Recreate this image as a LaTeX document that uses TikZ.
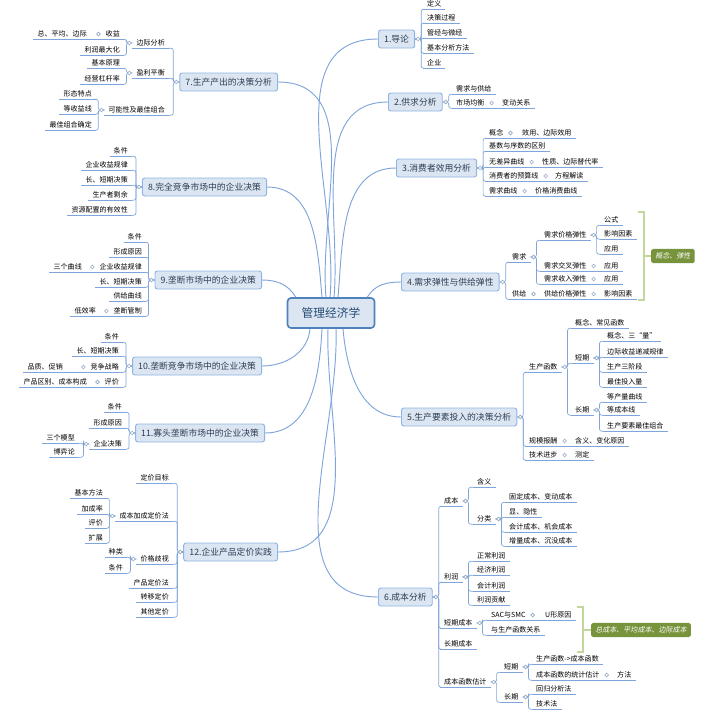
\documentclass[tikz,border=0pt]{standalone}
\usepackage{fontspec}
\setmainfont{Noto Sans CJK SC}
\newfontfamily\slantcjk[FakeSlant=0.2]{Noto Sans CJK SC}
\usepackage{xcolor}
\usepackage{tikz}
\usetikzlibrary{positioning, calc}

\definecolor{topicfill}{HTML}{DCE6F2}
\definecolor{topicline}{HTML}{8EB4E3}
\definecolor{rootline}{HTML}{4F81BD}
\definecolor{branch}{HTML}{7FA5DA}
\definecolor{knobline}{HTML}{95A9C4}
\definecolor{sumfill}{HTML}{77933C}
\definecolor{braceline}{HTML}{C3D69B}
\definecolor{topictext}{HTML}{2E3D52}
\definecolor{roottext}{HTML}{254A77}

\tikzset{
  root/.style={rectangle, draw=rootline, line width=1.4pt, rounded corners=3pt, fill=topicfill, text=roottext, font=\fontsize{10}{12}\selectfont, minimum width=2.61cm, minimum height=0.9cm},
  topic/.style={rectangle, draw=topicline, line width=0.8pt, rounded corners=2pt, fill=topicfill, text=topictext, font=\fontsize{7.5}{9}\selectfont, minimum height=0.54cm, inner xsep=0.17cm},
  uline/.style={draw=branch, line width=0.6pt},
  leaf/.style={font=\fontsize{6}{7}\selectfont, text height=5.2pt, text depth=0.8pt, inner xsep=3.4pt, inner ysep=1.3pt, append after command={(\tikzlastnode.south west) edge[uline] (\tikzlastnode.south east)}},
  rleaf/.style={leaf, anchor=west},
  lleaf/.style={leaf, anchor=east},
  link/.style={draw=branch, line width=0.6pt, rounded corners=2pt},
  trunk/.style={draw=branch, line width=0.8pt},
  knob/.style={draw=knobline, fill=white, line width=0.5pt},
  brace/.style={draw=braceline, line width=1.3pt},
  sumbox/.style={rectangle, fill=sumfill, text=white, rounded corners=1.5pt, font=\slantcjk\fontsize{6}{7}\selectfont, minimum height=0.42cm, inner xsep=3.5pt}
}

% children joined to a parent, right and left
\newcommand\kidsR[2]{\foreach \kid in {#2}{\draw[link] (#1.east) -- ++(6,0) |- (\kid.south west);}\draw[knob] ($(#1.east)+(3,0)$) circle[radius=1.6pt];}
\newcommand\kidsL[2]{\foreach \kid in {#2}{\draw[link] (#1.west) -- ++(-6,0) |- (\kid.south east);}\draw[knob] ($(#1.west)+(-3,0)$) circle[radius=1.6pt];}
\newcommand\kidR[2]{\draw[link] (#1.south east) -- (#2.south west); \draw[knob] ($(#1.east)+(3,0)$) circle[radius=1.6pt];}
\newcommand\kidL[2]{\draw[link] (#1.south west) -- (#2.south east); \draw[knob] ($(#1.west)+(-3,0)$) circle[radius=1.6pt];}

\begin{document}
\begin{tikzpicture}[x=0.03cm, y=-0.03cm]
\useasboundingbox (0,0) rectangle (722,727);

\node[root] (root) at (331,313) {管理经济学};

% right topics
\node[topic, anchor=west] (t1) at (378,39) {1.导论};
\node[topic, anchor=west] (t2) at (388,102) {2.供求分析};
\node[topic, anchor=west] (t3) at (396,168) {3.消费者效用分析};
\node[topic, anchor=west] (t4) at (401,282) {4.需求弹性与供给弹性};
\node[topic, anchor=west] (t5) at (401,417) {5.生产要素投入的决策分析};
\node[topic, anchor=west] (t6) at (378,597) {6.成本分析};
% left topics
\node[topic, anchor=east] (t7) at (278,82) {7.生产产出的决策分析};
\node[topic, anchor=east] (t8) at (267,187) {8.完全竞争市场中的企业决策};
\node[topic, anchor=east] (t9) at (262,280) {9.垄断市场中的企业决策};
\node[topic, anchor=east] (t10) at (262,366) {10.垄断竞争市场中的企业决策};
\node[topic, anchor=east] (t11) at (265,433) {11.寡头垄断市场中的企业决策};
\node[topic, anchor=east] (t12) at (278,552) {12.企业产品定价实践};

\draw[trunk] ($(root.north)+(-1,0)$) to[out=85,in=180] (t1.west);
\draw[trunk] ($(root.north)+(3,0)$) to[out=85,in=180] (t2.west);
\draw[trunk] ($(root.north)+(7,0)$) to[out=85,in=180] (t3.west);
\draw[trunk] ($(root.north east)+(-8,0)$) to[out=60,in=180] (t4.west);
\draw[trunk] ($(root.south)+(12,0)$) to[out=-85,in=180] (t5.west);
\draw[trunk] ($(root.south)+(5,0)$) to[out=-88,in=180] (t6.west);
\draw[trunk] ($(root.north)+(-5,0)$) to[out=95,in=0] (t7.east);
\draw[trunk] ($(root.north)+(-9,0)$) to[out=95,in=0] (t8.east);
\draw[trunk] ($(root.north west)+(9,0)$) to[out=120,in=0] (t9.east);
\draw[trunk] ($(root.south)+(-21,0)$) to[out=-95,in=0] (t10.east);
\draw[trunk] ($(root.south)+(-9,0)$) to[out=-93,in=0] (t11.east);
\draw[trunk] ($(root.south)+(-3,0)$) to[out=-92,in=0] (t12.east);

% 1
\node[rleaf] (n11) at (423,4) {定义};
\node[rleaf] (n12) at (423,18) {决策过程};
\node[rleaf] (n13) at (423,33) {管经与微经};
\node[rleaf] (n14) at (423,48) {基本分析方法};
\node[rleaf] (n15) at (423,63) {企业};
\kidsR{t1}{n11,n12,n13,n14,n15}

% 2
\node[rleaf] (n21) at (452,89) {需求与供给};
\node[rleaf] (n22) at (452,103) {市场均衡};
\node[rleaf] (n221) at (498,103) {变动关系};
\kidsR{t2}{n21,n22}
\kidR{n22}{n221}

% 3
\node[rleaf] (n31) at (485,133) {概念};
\node[rleaf] (n311) at (518,133) {效用、边际效用};
\node[rleaf] (n32) at (485,146) {基数与序数的区别};
\node[rleaf] (n33) at (485,162) {无差异曲线};
\node[rleaf] (n331) at (538,162) {性质、边际替代率};
\node[rleaf] (n34) at (485,176) {消费者的预算线};
\node[rleaf] (n341) at (551,176) {方程解读};
\node[rleaf] (n35) at (485,191) {需求曲线};
\node[rleaf] (n351) at (531,191) {价格消费曲线};
\kidsR{t3}{n31,n32,n33,n34,n35}
\kidR{n31}{n311} \kidR{n33}{n331} \kidR{n34}{n341} \kidR{n35}{n351}

% 4
\node[rleaf] (n41) at (508,257) {需求};
\node[rleaf] (n42) at (508,294) {供给};
\node[rleaf] (n411) at (540,235) {需求价格弹性};
\node[rleaf] (n412) at (540,266) {需求交叉弹性};
\node[rleaf] (n413) at (540,279) {需求收入弹性};
\node[rleaf] (n421) at (540,294) {供给价格弹性};
\node[rleaf] (n4111) at (600,220) {公式};
\node[rleaf] (n4112) at (600,234) {影响因素};
\node[rleaf] (n4113) at (600,249) {应用};
\node[rleaf] (n4121) at (600,266) {应用};
\node[rleaf] (n4131) at (600,279) {应用};
\node[rleaf] (n4211) at (600,294) {影响因素};
\kidsR{t4}{n41,n42}
\kidsR{n41}{n411,n412,n413}
\kidsR{n411}{n4111,n4112,n4113}
\kidR{n412}{n4121} \kidR{n413}{n4131} \kidR{n42}{n421} \kidR{n421}{n4211}
\node[sumbox, anchor=west] (sum4) at (651,256) {概念、弹性};
\draw[brace] (638,212) -| (644,300) -- (638,300);
\draw[brace] (644,256) -- (sum4.west);

% 5
\node[rleaf] (n51) at (525,367) {生产函数};
\node[rleaf] (n52) at (525,441) {规模报酬};
\node[rleaf] (n53) at (525,455) {技术进步};
\node[rleaf] (n511) at (571,323) {概念、常见函数};
\node[rleaf] (n512) at (571,358) {短期};
\node[rleaf] (n513) at (571,410) {长期};
\node[rleaf] (n5121) at (603,336) {概念、三“量”};
\node[rleaf] (n5122) at (603,352) {边际收益递减规律};
\node[rleaf] (n5123) at (603,367) {生产三阶段};
\node[rleaf] (n5124) at (603,382) {最佳投入量};
\node[rleaf] (n5131) at (603,397) {等产量曲线};
\node[rleaf] (n5132) at (603,410) {等成本线};
\node[rleaf] (n5133) at (603,426) {生产要素最佳组合};
\node[rleaf] (n521) at (571,441) {含义、变化原因};
\node[rleaf] (n531) at (571,455) {测定};
\kidsR{t5}{n51,n52,n53}
\kidsR{n51}{n511,n512,n513}
\kidsR{n512}{n5121,n5122,n5123,n5124}
\kidsR{n513}{n5131,n5132,n5133}
\kidR{n52}{n521} \kidR{n53}{n531}

% 6
\node[rleaf] (n61) at (440,501) {成本};
\node[rleaf] (n62) at (440,577) {利润};
\node[rleaf] (n63) at (440,623) {短期成本};
\node[rleaf] (n64) at (440,644) {长期成本};
\node[rleaf] (n65) at (440,682) {成本函数估计};
\node[rleaf] (n611) at (473,482) {含义};
\node[rleaf] (n612) at (473,519) {分类};
\node[rleaf] (n6121) at (505,497) {固定成本、变动成本};
\node[rleaf] (n6122) at (505,512) {显、隐性};
\node[rleaf] (n6123) at (505,527) {会计成本、机会成本};
\node[rleaf] (n6124) at (505,541) {增量成本、沉没成本};
\node[rleaf] (n621) at (473,556) {正常利润};
\node[rleaf] (n622) at (473,570) {经济利润};
\node[rleaf] (n623) at (473,586) {会计利润};
\node[rleaf] (n624) at (473,600) {利润贡献};
\node[rleaf] (n631) at (487,615) {SAC与SMC};
\node[rleaf] (n632) at (487,630) {与生产函数关系};
\node[rleaf] (n6311) at (541,615) {U形原因};
\node[rleaf] (n651) at (500,667) {短期};
\node[rleaf] (n652) at (500,697) {长期};
\node[rleaf] (n6511) at (532,659) {生产函数->成本函数};
\node[rleaf] (n6512) at (532,675) {成本函数的统计估计};
\node[rleaf] (n65121) at (613,675) {方法};
\node[rleaf] (n6521) at (532,689) {回归分析法};
\node[rleaf] (n6522) at (532,704) {技术法};
\kidsR{t6}{n61,n62,n63,n64,n65}
\kidsR{n61}{n611,n612}
\kidsR{n612}{n6121,n6122,n6123,n6124}
\kidsR{n62}{n621,n622,n623,n624}
\kidsR{n63}{n631,n632}
\kidR{n631}{n6311}
\kidsR{n65}{n651,n652}
\kidsR{n651}{n6511,n6512}
\kidR{n6512}{n65121}
\kidsR{n652}{n6521,n6522}
\node[sumbox, anchor=west] (sum6) at (591,630) {总成本、平均成本、边际成本};
\draw[brace] (577,607) -| (583,652) -- (577,652);
\draw[brace] (583,630) -- (sum6.west);

% 7
\node[lleaf] (m71) at (169,43) {边际分析};
\node[lleaf] (m72) at (169,73) {盈利平衡};
\node[lleaf] (m73) at (169,110) {可能性及最佳组合};
\node[lleaf] (m711) at (124,34) {收益};
\node[lleaf] (m712) at (124,50) {利润最大化};
\node[lleaf] (m7111) at (91,34) {总、平均、边际};
\node[lleaf] (m721) at (124,63) {基本原理};
\node[lleaf] (m722) at (124,79) {经营杠杆率};
\node[lleaf] (m731) at (96,94) {形态特点};
\node[lleaf] (m732) at (96,109) {等收益线};
\node[lleaf] (m733) at (96,125) {最佳组合确定};
\kidsL{t7}{m71,m72,m73}
\kidsL{m71}{m711,m712}
\kidL{m711}{m7111}
\kidsL{m72}{m721,m722}
\kidsL{m73}{m731,m732,m733}

% 8
\node[lleaf] (m81) at (132,151) {条件};
\node[lleaf] (m82) at (132,165) {企业收益规律};
\node[lleaf] (m83) at (132,180) {长、短期决策};
\node[lleaf] (m84) at (132,195) {生产者剩余};
\node[lleaf] (m85) at (132,210) {资源配置的有效性};
\kidsL{t8}{m81,m82,m83,m84,m85}

% 9
\node[lleaf] (m91) at (146,237) {条件};
\node[lleaf] (m92) at (146,252) {形成原因};
\node[lleaf] (m93) at (146,267) {企业收益规律};
\node[lleaf] (m931) at (86,267) {三个曲线};
\node[lleaf] (m94) at (146,282) {长、短期决策};
\node[lleaf] (m95) at (146,296) {供给曲线};
\node[lleaf] (m96) at (146,311) {垄断管制};
\node[lleaf] (m961) at (100,311) {低效率};
\kidsL{t9}{m91,m92,m93,m94,m95,m96}
\kidL{m93}{m931} \kidL{m96}{m961}

% 10
\node[lleaf] (m101) at (123,337) {条件};
\node[lleaf] (m102) at (123,351) {长、短期决策};
\node[lleaf] (m103) at (123,367) {竞争战略};
\node[lleaf] (m1031) at (67,367) {品质、促销};
\node[lleaf] (m104) at (123,382) {评价};
\node[lleaf] (m1041) at (91,382) {产品区别、成本构成};
\kidsL{t10}{m101,m102,m103,m104}
\kidL{m103}{m1031} \kidL{m104}{m1041}

% 11
\node[lleaf] (m111) at (126,407) {条件};
\node[lleaf] (m112) at (126,423) {形成原因};
\node[lleaf] (m113) at (126,444) {企业决策};
\node[lleaf] (m1131) at (79,438) {三个模型};
\node[lleaf] (m1132) at (79,452) {博弈论};
\kidsL{t11}{m111,m112,m113}
\kidsL{m113}{m1131,m1132}

% 12
\node[lleaf] (m121) at (173,478) {定价目标};
\node[lleaf] (m122) at (173,516) {成本加成定价法};
\node[lleaf] (m1221) at (107,493) {基本方法};
\node[lleaf] (m1222) at (107,509) {加成率};
\node[lleaf] (m1223) at (107,523) {评价};
\node[lleaf] (m1224) at (107,538) {扩展};
\node[lleaf] (m123) at (173,559) {价格歧视};
\node[lleaf] (m1231) at (127,552) {种类};
\node[lleaf] (m1232) at (127,568) {条件};
\node[lleaf] (m124) at (173,583) {产品定价法};
\node[lleaf] (m125) at (173,597) {转移定价};
\node[lleaf] (m126) at (173,612) {其他定价};
\kidsL{t12}{m121,m122,m123,m124,m125,m126}
\kidsL{m122}{m1221,m1222,m1223,m1224}
\kidsL{m123}{m1231,m1232}
\end{tikzpicture}
\end{document}
